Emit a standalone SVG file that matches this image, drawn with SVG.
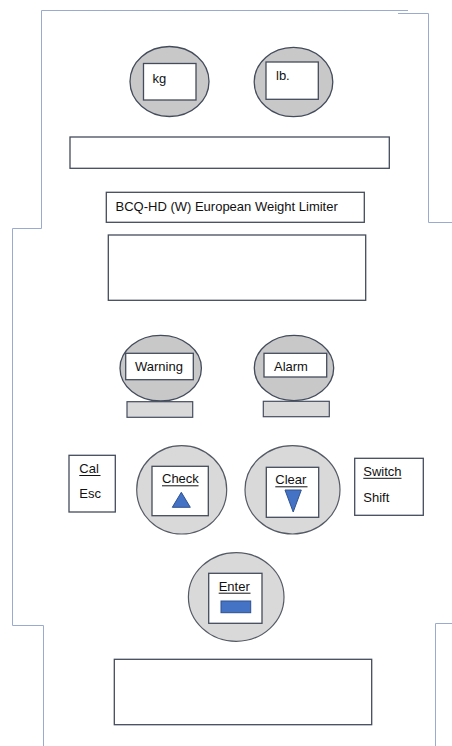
<svg xmlns="http://www.w3.org/2000/svg" width="452" height="746" viewBox="0 0 452 746">
  <style>
    .outline { fill: none; stroke: #9aaad0; stroke-width: 1; }
    .box { fill: #ffffff; stroke: #444c5c; stroke-width: 1.3; }
    .lamp { fill: #c8c8c8; stroke: #444c5c; stroke-width: 1.3; }
    .key { fill: #d9d9d9; stroke: #555b66; stroke-width: 1.2; }
    .base { fill: #d9d9d9; stroke: #444c5c; stroke-width: 1.2; }
    .blue { fill: #4472c4; stroke: #2f528f; stroke-width: 1; }
    text { font-family: "Liberation Sans", Arial, sans-serif; font-size: 13px; fill: #111111; }
    .ul { stroke: #111111; stroke-width: 1; }
  </style>
  <rect width="452" height="746" fill="#ffffff"/>

  <!-- panel outline -->
  <g id="panel-outline">
    <polyline class="outline" points="12.5,625.5 12.5,228.5 41.5,228.5 41.5,10.5 408,10.5"/>
    <polyline class="outline" points="398,13.5 428.5,13.5 428.5,222.5 452,222.5"/>
    <polyline class="outline" points="12.5,625.5 43.5,625.5 43.5,746"/>
    <polyline class="outline" points="452,623.5 435.5,623.5 435.5,746"/>
  </g>

  <!-- unit indicators -->
  <g id="kg-lamp">
    <ellipse class="lamp" cx="169.5" cy="81.5" rx="39.5" ry="35"/>
    <rect class="box" x="143.5" y="63.5" width="52.5" height="36.5"/>
    <text x="152.5" y="83">kg</text>
  </g>
  <g id="lb-lamp">
    <ellipse class="lamp" cx="293.5" cy="82" rx="39.3" ry="34.7"/>
    <rect class="box" x="266" y="62" width="52.3" height="37.3"/>
    <text x="276" y="80">lb.</text>
  </g>

  <g id="display-top">
    <rect class="box" x="70" y="137" width="319.3" height="31.3"/>
  </g>

  <g id="title">
    <rect class="box" x="106.3" y="192.3" width="258" height="30"/>
    <text x="115.5" y="211">BCQ-HD (W) European Weight Limiter</text>
  </g>

  <g id="display-main">
    <rect class="box" x="108.3" y="235" width="257.4" height="65.3"/>
  </g>

  <!-- status lamps -->
  <g id="warning-lamp">
    <ellipse class="lamp" cx="160.7" cy="368.2" rx="40.7" ry="32.8"/>
    <rect class="box" x="125.7" y="353.3" width="67.6" height="26.4"/>
    <text x="135" y="371">Warning</text>
    <rect class="base" x="127" y="401.7" width="65.7" height="15.6"/>
  </g>
  <g id="alarm-lamp">
    <ellipse class="lamp" cx="294" cy="368" rx="39.7" ry="32.7"/>
    <rect class="box" x="264" y="353.3" width="62.7" height="23.7"/>
    <text x="274" y="370.7">Alarm</text>
    <rect class="base" x="263.3" y="401.3" width="66" height="15.4"/>
  </g>

  <!-- keypad -->
  <g id="cal-esc">
    <rect class="box" x="69" y="455.3" width="46.3" height="56.7"/>
    <text x="79.3" y="473.3">Cal</text>
    <line class="ul" x1="79.3" y1="475.5" x2="100.5" y2="475.5"/>
    <text x="79.3" y="498.3">Esc</text>
  </g>
  <g id="check-key">
    <ellipse class="key" cx="181.7" cy="489.8" rx="45" ry="44.2"/>
    <rect class="box" x="152" y="466.3" width="56.3" height="49.4"/>
    <text x="162" y="483.3">Check</text>
    <line class="ul" x1="162" y1="485.8" x2="198.5" y2="485.8"/>
    <polygon class="blue" points="181.3,492.3 190.3,507.3 172.3,507.3"/>
  </g>
  <g id="clear-key">
    <ellipse class="key" cx="292.5" cy="489.8" rx="47.5" ry="44.2"/>
    <rect class="box" x="266.3" y="467.3" width="52.4" height="50"/>
    <text x="275.3" y="484.3">Clear</text>
    <line class="ul" x1="275.3" y1="486.8" x2="307.5" y2="486.8"/>
    <polygon class="blue" points="285,490 301.3,490 293.2,512"/>
  </g>
  <g id="switch-shift">
    <rect class="box" x="354.7" y="458.3" width="68.6" height="57"/>
    <text x="363.3" y="476">Switch</text>
    <line class="ul" x1="363.3" y1="478.3" x2="401.5" y2="478.3"/>
    <text x="363.3" y="501.7">Shift</text>
  </g>
  <g id="enter-key">
    <ellipse class="key" cx="236.2" cy="597" rx="47.8" ry="44.3"/>
    <rect class="box" x="208.7" y="573.3" width="53.3" height="50"/>
    <text x="218.7" y="590.7">Enter</text>
    <line class="ul" x1="218.7" y1="593.2" x2="250.5" y2="593.2"/>
    <rect class="blue" x="221" y="601" width="29.7" height="11.7"/>
  </g>

  <g id="display-bottom">
    <rect class="box" x="114.3" y="659.3" width="257.4" height="65.4"/>
  </g>

  <g id="connectors"/>
</svg>
